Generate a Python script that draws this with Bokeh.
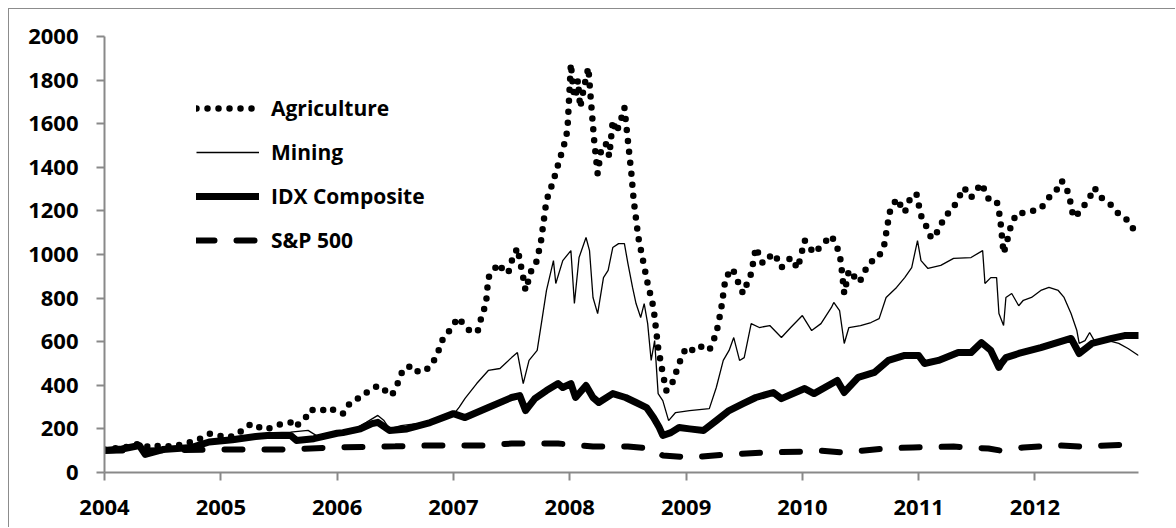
from bokeh.plotting import figure
from bokeh.models import Range1d, FixedTicker, Legend, LegendItem
from bokeh.embed import file_html
from bokeh.resources import INLINE

# ---------------- data ----------------
agri_t = [2004.00, 2004.08, 2004.17, 2004.31, 2004.40, 2004.48, 2004.60, 2004.68, 2004.77, 2004.84,
          2004.91, 2004.98, 2005.06, 2005.14, 2005.21, 2005.27, 2005.32, 2005.37, 2005.44, 2005.53,
          2005.60, 2005.64, 2005.68, 2005.73, 2005.77, 2005.83, 2005.90, 2005.94, 2006.00, 2006.05,
          2006.10, 2006.15, 2006.20, 2006.29, 2006.35, 2006.40, 2006.44, 2006.47, 2006.52, 2006.57,
          2006.65, 2006.70, 2006.78, 2006.85, 2006.91, 2006.98, 2007.04, 2007.11, 2007.16, 2007.21,
          2007.24, 2007.28, 2007.30, 2007.35, 2007.38, 2007.43, 2007.47, 2007.51, 2007.55, 2007.60,
          2007.62, 2007.67, 2007.71, 2007.75, 2007.80, 2007.86, 2007.91, 2007.95, 2007.98, 2008.01,
          2008.03, 2008.05, 2008.07, 2008.09, 2008.12, 2008.16, 2008.18, 2008.21, 2008.24, 2008.27,
          2008.31, 2008.34, 2008.37, 2008.40, 2008.43, 2008.47, 2008.50, 2008.53, 2008.55, 2008.59,
          2008.63, 2008.67, 2008.72, 2008.76, 2008.80, 2008.83, 2008.86, 2008.89, 2008.94, 2009.00,
          2009.05, 2009.09, 2009.15, 2009.20, 2009.26, 2009.30, 2009.34, 2009.40, 2009.45, 2009.49,
          2009.56, 2009.60, 2009.66, 2009.72, 2009.76, 2009.82, 2009.90, 2009.96, 2010.02, 2010.10,
          2010.19, 2010.25, 2010.30, 2010.33, 2010.36, 2010.40, 2010.49, 2010.57, 2010.65, 2010.70,
          2010.72, 2010.75, 2010.81, 2010.88, 2010.92, 2010.98, 2011.02, 2011.07, 2011.11, 2011.17,
          2011.22, 2011.30, 2011.39, 2011.45, 2011.54, 2011.60, 2011.67, 2011.70, 2011.73, 2011.76,
          2011.78, 2011.84, 2011.94, 2012.05, 2012.12, 2012.19, 2012.23, 2012.29, 2012.33, 2012.38,
          2012.43, 2012.47, 2012.51, 2012.57, 2012.66, 2012.73, 2012.80, 2012.87]
agri_v = [105, 110, 115, 133, 112, 125, 118, 133, 142, 160,
          179, 170, 160, 174, 206, 225, 211, 197, 206, 225,
          229, 206, 229, 252, 289, 280, 289, 298, 275, 270,
          312, 321, 353, 376, 399, 380, 367, 353, 408, 477,
          490, 459, 477, 527, 614, 660, 711, 665, 640, 651,
          711, 775, 894, 927, 959, 930, 913, 986, 1030, 894,
          835, 927, 960, 1050, 1248, 1339, 1431, 1500, 1569, 1876,
          1750, 1720, 1800, 1674, 1760, 1858, 1720, 1523, 1371, 1480,
          1509, 1450, 1615, 1560, 1600, 1674, 1523, 1371, 1248, 1078,
          972, 867, 757, 573, 454, 376, 385, 422, 500, 573,
          560, 582, 575, 560, 638, 743, 894, 936, 870, 821,
          913, 1032, 959, 990, 1005, 940, 986, 936, 1064, 1005,
          1055, 1087, 1032, 972, 821, 927, 872, 959, 986, 1032,
          1096, 1193, 1257, 1193, 1248, 1280, 1179, 1124, 1073, 1110,
          1170, 1216, 1307, 1261, 1326, 1257, 1248, 1170, 1005, 1060,
          1110, 1188, 1193, 1211, 1261, 1300, 1339, 1280, 1170, 1193,
          1230, 1261, 1307, 1261, 1225, 1179, 1156, 1096]

mining_t = [2004.00, 2004.15, 2004.30, 2004.36, 2004.45, 2004.60, 2004.80, 2005.00, 2005.20, 2005.45,
            2005.60, 2005.75, 2005.85, 2006.00, 2006.15, 2006.25, 2006.35, 2006.40, 2006.45, 2006.55,
            2006.70, 2006.85, 2007.00, 2007.05, 2007.10, 2007.20, 2007.30, 2007.40, 2007.50, 2007.55,
            2007.60, 2007.65, 2007.72, 2007.76, 2007.80, 2007.86, 2007.88, 2007.94, 2008.01, 2008.04,
            2008.08, 2008.14, 2008.17, 2008.20, 2008.24, 2008.29, 2008.33, 2008.37, 2008.42, 2008.47,
            2008.50, 2008.54, 2008.57, 2008.61, 2008.64, 2008.67, 2008.70, 2008.73, 2008.76, 2008.80,
            2008.85, 2008.91, 2009.03, 2009.20, 2009.26, 2009.32, 2009.37, 2009.41, 2009.46, 2009.50,
            2009.56, 2009.63, 2009.72, 2009.82, 2009.90, 2010.00, 2010.08, 2010.16, 2010.25, 2010.27,
            2010.32, 2010.36, 2010.40, 2010.50, 2010.59, 2010.66, 2010.72, 2010.81, 2010.88, 2010.94,
            2010.99, 2011.02, 2011.08, 2011.19, 2011.30, 2011.45, 2011.55, 2011.57, 2011.62, 2011.67,
            2011.69, 2011.73, 2011.75, 2011.80, 2011.86, 2011.90, 2011.97, 2012.05, 2012.12, 2012.20,
            2012.25, 2012.31, 2012.36, 2012.38, 2012.43, 2012.47, 2012.51, 2012.63, 2012.72, 2012.80,
            2012.89]
mining_v = [100, 110, 122, 90, 108, 112, 122, 140, 160, 183,
            185, 193, 160, 180, 200, 230, 262, 240, 200, 215,
            225, 240, 265, 300, 340, 408, 468, 477, 527, 550,
            408, 514, 560, 697, 835, 972, 867, 972, 1018, 775,
            986, 1078, 1018, 803, 729, 894, 927, 1032, 1050, 1050,
            959, 849, 775, 711, 775, 683, 514, 605, 362, 330,
            238, 275, 284, 293, 390, 514, 560, 619, 514, 527,
            683, 665, 674, 619, 665, 720, 651, 683, 757, 780,
            743, 592, 665, 674, 688, 706, 803, 849, 894, 940,
            1064, 972, 936, 950, 982, 986, 1018, 867, 894, 894,
            729, 674, 803, 821, 765, 790, 803, 835, 849, 835,
            803, 729, 651, 592, 605, 642, 605, 605, 592, 569,
            537]

idx_t = [2004.00, 2004.15, 2004.30, 2004.35, 2004.50, 2004.75, 2004.90, 2005.10, 2005.30, 2005.40,
         2005.60, 2005.65, 2005.80, 2006.00, 2006.05, 2006.20, 2006.30, 2006.35, 2006.45, 2006.60,
         2006.80, 2007.00, 2007.10, 2007.30, 2007.50, 2007.57, 2007.62, 2007.70, 2007.80, 2007.90,
         2007.94, 2008.01, 2008.05, 2008.14, 2008.20, 2008.25, 2008.37, 2008.48, 2008.57, 2008.66,
         2008.72, 2008.77, 2008.80, 2008.87, 2008.94, 2009.03, 2009.15, 2009.26, 2009.37, 2009.49,
         2009.60, 2009.75, 2009.82, 2010.02, 2010.10, 2010.30, 2010.36, 2010.48, 2010.62, 2010.74,
         2010.88, 2011.00, 2011.05, 2011.17, 2011.34, 2011.45, 2011.54, 2011.62, 2011.69, 2011.71,
         2011.75, 2011.86, 2012.05, 2012.31, 2012.38, 2012.49, 2012.66, 2012.77, 2012.89]
idx_v = [101, 108, 124, 83, 105, 115, 140, 150, 165, 170,
         170, 147, 155, 180, 183, 200, 224, 230, 193, 200,
         229, 270, 252, 298, 344, 353, 284, 339, 376, 408,
         390, 408, 344, 399, 344, 321, 362, 344, 321, 298,
         252, 206, 170, 183, 206, 200, 193, 238, 284, 316,
         344, 367, 339, 385, 362, 422, 367, 436, 459, 514,
         537, 537, 500, 514, 550, 550, 596, 560, 482, 500,
         527, 546, 573, 615, 546, 592, 615, 628, 628]

sp_t = [2004.00, 2004.50, 2005.00, 2005.50, 2006.00, 2006.50, 2006.80, 2007.30, 2007.50, 2007.90,
        2008.20, 2008.50, 2008.70, 2008.80, 2009.05, 2009.35, 2009.70, 2010.00, 2010.15, 2010.35,
        2010.70, 2010.95, 2011.30, 2011.60, 2011.70, 2011.90, 2012.20, 2012.40, 2012.80, 2012.89]
sp_v = [100, 102, 105, 105, 115, 120, 124, 124, 133, 133,
        119, 119, 110, 78, 69, 83, 92, 96, 100, 92,
        110, 115, 119, 110, 101, 115, 124, 119, 128, 119]

series_names = ["Agriculture", "Mining", "IDX Composite", "S&P 500"]
year_ticks = [2004, 2005, 2006, 2007, 2008, 2009, 2010, 2011, 2012]
value_ticks = [0, 200, 400, 600, 800, 1000, 1200, 1400, 1600, 1800, 2000]

# ---------------- figure ----------------
FONT = "Open Sans"
AXIS_GRAY = "#898989"

p = figure(width=1167, height=519, output_backend="svg", toolbar_location=None,
           x_range=Range1d(2004, 2012.89), y_range=Range1d(0, 2000),
           min_border_left=95, min_border_right=38, min_border_top=27, min_border_bottom=56)
p.margin = (8, 0, 0, 8)
p.styles = {"border-left": "1px solid #8c8c8c", "border-top": "1px solid #8c8c8c"}
p.outline_line_color = None
p.xgrid.visible = False
p.ygrid.visible = False
p.background_fill_color = "white"
p.border_fill_color = "white"

for ax in (p.xaxis[0], p.yaxis[0]):
    ax.axis_line_color = AXIS_GRAY
    ax.axis_line_width = 2
    ax.major_tick_line_color = AXIS_GRAY
    ax.major_tick_line_width = 2
    ax.minor_tick_line_color = None
    ax.major_tick_in = 0
    ax.major_tick_out = 8
    ax.major_label_text_font = FONT
    ax.major_label_text_font_style = "bold"
    ax.major_label_text_font_size = "22px"
    ax.major_label_text_color = "black"

p.xaxis.ticker = FixedTicker(ticks=year_ticks)
p.yaxis.ticker = FixedTicker(ticks=value_ticks)
p.xaxis.major_label_standoff = 19
p.yaxis.major_label_standoff = 18

r_min = p.line(mining_t, mining_v, line_color="black", line_width=1.3)
r_idx = p.line(idx_t, idx_v, line_color="black", line_width=7, line_join="round", line_cap="round")
r_sp = p.line(sp_t, sp_v, line_color="black", line_width=6, line_dash="18 22", line_cap="round")
r_agri = p.line(agri_t, agri_v, line_color="black", line_width=6.5, line_dash="0 11", line_cap="round")

legend = Legend(items=[
    LegendItem(label=series_names[0], renderers=[r_agri]),
    LegendItem(label=series_names[1], renderers=[r_min]),
    LegendItem(label=series_names[2], renderers=[r_idx]),
    LegendItem(label=series_names[3], renderers=[r_sp]),
], location=(92, 217))
legend.border_line_color = None
legend.background_fill_alpha = 0
legend.padding = 0
legend.spacing = 14
legend.glyph_width = 63
legend.glyph_height = 30
legend.label_height = 30
legend.label_standoff = 12
legend.label_text_font = FONT
legend.label_text_font_style = "bold"
legend.label_text_font_size = "21px"
legend.label_text_color = "black"
p.add_layout(legend, "center")

open("out.html", "w").write(file_html(p, INLINE))
